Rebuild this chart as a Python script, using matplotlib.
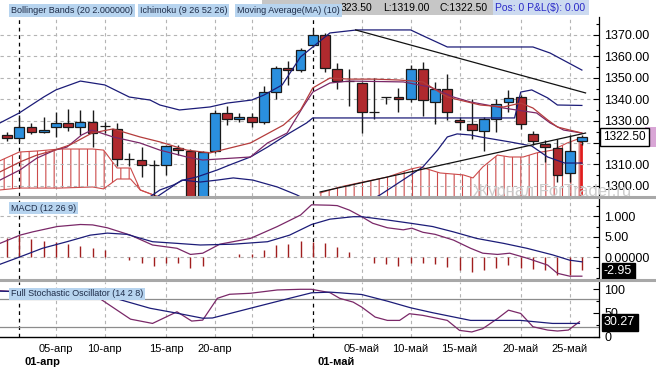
import numpy as np
import matplotlib
matplotlib.use("Agg")
import matplotlib.pyplot as plt
from matplotlib.lines import Line2D
from matplotlib.patches import Rectangle
from matplotlib.ticker import AutoMinorLocator
from matplotlib.transforms import Bbox, TransformedBbox, blended_transform_factory

plt.rcParams["font.family"] = ["Liberation Sans", "DejaVu Sans"]
plt.rcParams["hatch.linewidth"] = 0.8

# --- price candles, one per bar (index 0..47) ---
opens = [1323.5, 1322, 1327, 1325, 1327, 1329, 1327, 1329.5, 1327.7, 1326.5,
         1312.4, 1312, 1309.6, 1309.5, 1317.5, 1316, 1294, 1316, 1333.5, 1331,
         1332, 1329.5, 1343.5, 1354.5, 1353.5, 1365, 1370, 1354, 1348.5, 1347.5,
         1334.3, 1341.3, 1341, 1340, 1354, 1339, 1345, 1330.5, 1328.5, 1325.5,
         1331, 1338.7, 1341, 1324, 1319.5, 1317.5, 1306, 1320.5]
highs = [1325, 1333, 1329, 1332, 1334, 1335.5, 1335, 1335, 1329.5, 1329,
         1315, 1318, 1312, 1319, 1319, 1317, 1316, 1335, 1337, 1333.5,
         1333.5, 1346, 1355.5, 1358, 1364, 1372, 1371, 1357, 1354, 1348,
         1350, 1341.3, 1345.5, 1356, 1357.5, 1348, 1352, 1332, 1340, 1332,
         1340, 1344.5, 1342, 1325.5, 1321, 1321.5, 1323.5, 1323.5]
lows = [1320.5, 1320.5, 1324, 1324.5, 1322.5, 1325.5, 1323.5, 1318, 1324.5, 1309,
        1309, 1304, 1290, 1305, 1314, 1289, 1290, 1315, 1328, 1329.5,
        1327, 1328.5, 1340, 1346.5, 1352.5, 1364.5, 1352.5, 1345, 1337, 1324.5,
        1331, 1338, 1334, 1339, 1332.5, 1328.5, 1330.5, 1326, 1321.5, 1316,
        1325, 1334, 1326.5, 1319, 1311, 1301.5, 1301.5, 1319]
closes = [1322, 1327, 1325, 1326, 1329, 1327, 1329.5, 1324.5, 1327.7, 1312.5,
          1312.4, 1309.5, 1309.6, 1318.5, 1316.5, 1292, 1315.5, 1333.5, 1331, 1332,
          1329.5, 1343.5, 1354.5, 1353.5, 1363, 1370, 1354.5, 1348.5, 1348.5, 1334,
          1334.3, 1341.3, 1340, 1354, 1339.5, 1345, 1334, 1329.3, 1326, 1331,
          1338, 1340.8, 1328.5, 1320.5, 1318, 1305, 1316, 1322.5]

# --- overlay lines (bar position, price) ---
ubb_x = [-0.57, 1, 3, 4, 6, 8, 10, 11.7, 12.5, 14.1, 16.6, 18, 20, 21, 22.5, 24, 25,
         26.4, 28.6, 33, 34.2, 36, 43, 44.4, 47]
ubb_y = [1329.1, 1333.7, 1341.1, 1344.4, 1348.5, 1346.7, 1341.1, 1339.7, 1337.4, 1335.1,
         1336.5, 1338.3, 1339.7, 1342, 1346.7, 1359.7, 1364.3, 1370.8, 1372.2, 1372.2,
         1369, 1364.3, 1364.3, 1361.5, 1353.6]
lbb_x = [12.3, 14.3, 15.8, 17.2, 18.5, 20.1, 22.1, 23.7, 26, 28, 30.5, 34, 35.2, 36,
         36.8, 37.9, 38.7, 41.1, 42.9, 44.2, 45.6, 47]
lbb_y = [1295, 1302.6, 1301.7, 1302.6, 1303.6, 1302.6, 1299.4, 1295.7, 1289, 1288,
         1295.7, 1308.7, 1316.5, 1322.6, 1324, 1323.5, 1322.6, 1320.3, 1318.4, 1313.3,
         1310.5, 1310.5]
kijun_x = [11.6, 12.5, 13.6, 14.4, 15.5, 17.2, 18.2, 19.9, 21.3, 23.1, 24.5, 25, 41.5,
           42, 42.9, 44.2, 45, 47]
kijun_y = [1294.5, 1298, 1300.3, 1302.6, 1304, 1307.3, 1309.6, 1313.3, 1317.9, 1324.4,
           1329.1, 1331.4, 1331.4, 1343.4, 1344.4, 1340.7, 1337.4, 1337.2]
ma_x = [-0.57, 1.06, 2.45, 3.92, 5.15, 6.95, 8.67, 10.87, 12.5, 14.7, 16.6, 19.9, 22.6,
        24, 25, 26.4, 28, 30, 32, 33, 34, 36, 37, 38.7, 40.6, 42, 43, 44.2, 45, 46, 47]
ma_y = [1306.4, 1311, 1314.2, 1316.5, 1318.9, 1324.4, 1326.3, 1322.6, 1320.3, 1316.5,
        1315.2, 1319.8, 1328.1, 1335.1, 1345.3, 1349.9, 1349.4, 1349.4, 1349, 1348.6,
        1348.1, 1341.1, 1339.7, 1337.4, 1336.5, 1338.3, 1336, 1330.5, 1327.2, 1325.8,
        1324.4]
tenkan_x = [-0.57, 1.06, 2.45, 3.92, 4.9, 6.1, 6.95, 8.67, 10.87, 12.5, 14.7, 16, 19.9,
            21.3, 22.9, 24.2, 25, 26.4, 28, 32.4, 34.6, 36.5, 37.9, 40.6, 43.3, 44.4,
            45.5, 47]
tenkan_y = [1302.6, 1307.3, 1312.8, 1316.5, 1317.9, 1323.5, 1325.8, 1322.6, 1319.8,
            1316.5, 1313.3, 1311.9, 1313.3, 1319.8, 1324.4, 1336.5, 1343.4, 1347.6,
            1348.5, 1348.1, 1345.7, 1341.1, 1338.8, 1336, 1333.7, 1329.1, 1325.8, 1324.4]

# ichimoku cloud pieces
cloud_l_x = [-0.6, 1, 2.5, 4.3, 7, 7.9, 9, 10.1, 10.9, 12.3]
cloud_l_top = [1311.5, 1315.6, 1316.1, 1317, 1317, 1316.5, 1308.2, 1308.2, 1298, 1295]
cloud_l_bot = [1298, 1298.9, 1298.9, 1298.9, 1299.4, 1298.5, 1303.1, 1303.1, 1298, 1295]
cloud_r_x = [25.6, 27.2, 29.1, 31.1, 33, 33.8, 34.6, 35.4, 37.3, 38.1, 38.9, 40.1, 41.1,
             42.2, 43.3, 44.6, 45.8, 46.9]
cloud_r_top = [1296.6, 1299.4, 1301.7, 1304, 1307.7, 1308.7, 1307.3, 1305.9, 1305,
               1303.6, 1308.7, 1314.2, 1313.3, 1313.3, 1315.2, 1316.5, 1319.8, 1322.1]
cloud_floor = 1285

# hand drawn trend lines
trend_dn_x = [28.5, 47.3]
trend_dn_y = [1372.2, 1343]
trend_up_x = [25.6, 47.3]
trend_up_y = [1297.1, 1324.4]

# --- MACD (12 26 9) ---
macd_x = [-0.57, 1.06, 2.1, 4.1, 6, 7, 8.2, 10.1, 11.9, 13.9, 15, 16, 17.4, 19.9, 22.1,
          24, 24.9, 26.4, 27, 28, 29, 29.9, 31.1, 32.4, 33.1, 34, 35, 36.5, 37.9, 38.9,
          40.1, 41.1, 42.5, 44.2, 45, 46, 47]
macd_y = [3.4, 5.4, 6.2, 7.5, 8, 7.9, 7.2, 5.4, 3, 2.2, 0.7, 1, 3.2, 4.6, 7.5, 10.3,
          12.8, 12.7, 12.6, 11.5, 9.9, 8.3, 7.2, 6.7, 7.1, 6.1, 5.6, 4.2, 2.2, 1, 0.7, 1,
          -0.2, -1.9, -3.9, -4.6, -4.6]
signal_x = [-0.57, 1.06, 2.9, 4.9, 6.8, 8.2, 9.8, 11.9, 13.9, 15.8, 18.5, 21.3, 23.1,
            24.9, 26.4, 28.3, 29, 31.1, 33, 34.8, 36.5, 38.4, 40.6, 42.5, 44.6, 46, 47]
signal_y = [-1.7, 0.1, 2.2, 3.8, 5.4, 5.9, 5.6, 3.8, 3.4, 3, 3.2, 3.8, 5.4, 8, 9.3, 9.9,
            9.9, 9.1, 8.3, 7.5, 6.2, 4.6, 3.4, 2.2, 0.6, -0.7, -1.1]
hist = [4.6, 5.4, 4.4, 4.0, 3.7, 3.2, 2.8, 2.2, 1.8, 0.1, -0.6, -1.3, -2.1, -1.5, -1.5,
        -2.6, -2.1, 0.0, 0.1, 0.7, 0.8, 1.8, 3.0, 3.2, 4.0, 3.8, 3.5, 2.4, 1.4, 0.05,
        -1.5, -1.7, -2.0, -1.5, -1.5, -1.7, -2.3, -3.1, -3.5, -3.1, -2.5, -1.9, -2.5,
        -2.8, -3.1, -4.3, -4.3, -3.1]

# --- Full Stochastic (14 2 8) ---
k_x = [-0.57, 3, 7.6, 10.1, 11.9, 13.9, 15.1, 16, 17.2, 18.2, 19.9, 22.1, 24, 24.9,
       26.4, 27.2, 28.3, 29, 30.1, 31.1, 32.1, 32.9, 34, 36, 37, 38, 38.9, 40.1, 41, 42,
       43, 44.2, 45, 45.9, 46.8]
k_y = [97, 92, 80.2, 37, 28, 52.6, 33, 35, 81, 89.5, 91.6, 98.6, 100, 100, 93, 81, 73,
       62.5, 41.4, 34.4, 34.4, 48.5, 45, 34.4, 13.3, 10, 17, 38.2, 56, 49, 21, 14, 12,
       14, 31.6]
d_x = [-0.57, 4, 7.9, 11.7, 13.9, 16, 16.8, 19.9, 23.1, 24.9, 26.4, 27.2, 29, 31.1, 33,
       34.8, 37.9, 40.1, 42, 44.6, 46.8]
d_y = [96, 93, 88, 60, 49.6, 39, 39.5, 60, 81, 92.6, 94, 92.6, 89, 75, 61, 50.6, 34.4,
       34.4, 34.4, 28, 28]

# date axis
date_idx = [4, 8, 13, 17, 29, 33, 37, 42, 46]
date_lbl = ["05-апр", "10-апр", "15-апр", "20-апр", "05-май", "10-май", "15-май",
            "20-май", "25-май"]
month_idx = [1, 25]
month_lbl = ["01-апр", "01-май"]
grid_idx = [4, 8, 13, 17, 20, 29, 33, 37, 42, 46]

BLUE = "#2a8fde"
RED = "#b02a2e"
NAVY = "#1c1c78"
PURPLE = "#7a2868"
MAROON = "#b43c3c"
CLOUD = "#cc4a4a"
GRID = "#b4b4b4"
DASH = (0, (3, 3))

W, H = 656, 367
fig = plt.figure(figsize=(W / 100, H / 100), dpi=100)


def fx(px):
    return px / W


def fy(py):
    return 1 - py / H


def panel(top, bottom):
    return fig.add_axes([0, fy(bottom), fx(599), (bottom - top) / H])


ax1 = panel(17, 195.5)
ax2 = panel(198, 279)
ax3 = panel(282, 336.7)

for ax in (ax1, ax2, ax3):
    ax.set_xlim(-0.57, 48.4)
    for s in ("top", "left", "bottom"):
        ax.spines[s].set_visible(False)
    ax.spines["right"].set_linewidth(0.9)
    ax.yaxis.tick_right()
    ax.yaxis.set_minor_locator(AutoMinorLocator(2))
    ax.tick_params(axis="y", direction="in", length=4, width=0.8, pad=4, labelsize=9)
    ax.tick_params(axis="y", which="minor", direction="in", length=2, width=0.8)
    ax.tick_params(axis="x", length=0)
    for g in grid_idx:
        ax.axvline(g, color=GRID, lw=0.8, ls=DASH, zorder=0)
    for m in month_idx:
        ax.axvline(m, color="black", lw=0.9, ls=DASH, zorder=1)

# ---------------- main price panel ----------------
ax1.set_ylim(1295.45, 1378.2)
price_ticks = list(range(1300, 1371, 10))
ax1.set_yticks(price_ticks)
# the 1320 label sits under the last-price box
ax1.set_yticklabels(["" if v == 1320 else f"{v:.2f}" for v in price_ticks])
ax1.grid(axis="y", color=GRID, lw=0.8, ls=DASH, zorder=0)
ax1.set_xticks([])

ax1.fill_between(cloud_l_x, cloud_l_top, cloud_l_bot, facecolor="none", edgecolor=CLOUD,
                 hatch="||", lw=0, zorder=1)
ax1.plot(cloud_l_x, cloud_l_top, color=CLOUD, lw=0.8, zorder=1)
ax1.plot(cloud_l_x, cloud_l_bot, color=CLOUD, lw=0.8, zorder=1)
ax1.fill_between(cloud_r_x, cloud_r_top, cloud_floor, facecolor="none", edgecolor=CLOUD,
                 hatch="||", lw=0, zorder=1)
ax1.plot(cloud_r_x, cloud_r_top, color=CLOUD, lw=0.8, zorder=1)
ax1.vlines(cloud_r_x[-1], cloud_floor, cloud_r_top[-1], color="#e01c1c", lw=2, zorder=1)

o = np.array(opens)
c = np.array(closes)
idx = np.arange(len(o))
body_col = [BLUE if cc > oo else (RED if cc < oo else "#303030") for oo, cc in zip(o, c)]
ax1.vlines(idx, lows, highs, color="#1a1a1a", lw=1, zorder=2)
ax1.bar(idx, np.abs(c - o), bottom=np.minimum(o, c), width=0.8, color=body_col,
        edgecolor="#1a1a1a", lw=0.9, zorder=3)

ax1.plot(ubb_x, ubb_y, color=NAVY, lw=0.9, zorder=4)
ax1.plot(lbb_x, lbb_y, color=NAVY, lw=0.9, zorder=4)
ax1.plot(kijun_x, kijun_y, color=NAVY, lw=0.9, zorder=4)
ax1.plot(tenkan_x, tenkan_y, color=PURPLE, lw=0.9, zorder=4)
ax1.plot(ma_x, ma_y, color=MAROON, lw=0.9, zorder=4)
ax1.plot(trend_dn_x, trend_dn_y, color="#111111", lw=0.9, zorder=5)
ax1.plot(trend_up_x, trend_up_y, color="#111111", lw=0.9, zorder=5)

# last price box on the axis
ax1.annotate("1322.50", xy=(1, closes[-1]), xycoords=("axes fraction", "data"),
             xytext=(4, 0), textcoords="offset pixels", ha="left", va="center",
             fontsize=8.5, annotation_clip=False,
             bbox=dict(boxstyle="square,pad=0.25", fc="white", ec="black", lw=1))
tr1 = blended_transform_factory(ax1.transAxes, ax1.transData)
ax1.add_patch(Rectangle((1 + 46 / 599, closes[-1] - 4.6), 11 / 599, 9.2, transform=tr1,
                        fc="#d9a6d6", ec="none", clip_on=False, zorder=0))

# ---------------- MACD panel ----------------
ax2.set_ylim(-5.29, 14.46)
ax2.set_yticks([0, 5, 10])
ax2.set_yticklabels(["0.00000", "5.00", "1.000"])
ax2.grid(axis="y", color=GRID, lw=0.8, ls=DASH, zorder=0)
ax2.set_xticks([])
ax2.vlines(idx, 0, hist, color="#a01e1e", lw=1, zorder=2)
ax2.plot(macd_x, macd_y, color=PURPLE, lw=0.9, zorder=3)
ax2.plot(signal_x, signal_y, color=NAVY, lw=0.9, zorder=3)
ax2.annotate("-2.95", xy=(1, -3.35), xycoords=("axes fraction", "data"),
             xytext=(5, 0), textcoords="offset pixels", ha="left", va="center",
             fontsize=9, color="white", annotation_clip=False,
             bbox=dict(boxstyle="square,pad=0.2", fc="black", ec="black"))

# ---------------- Stochastic panel ----------------
ax3.set_ylim(0, 115.4)
ax3.set_yticks([0, 50, 100])
ax3.set_yticklabels(["0", "50", "100"])
ax3.axhline(80, color="#8c8c8c", lw=0.9, zorder=1)
ax3.axhline(20, color="#8c8c8c", lw=0.9, zorder=1)
ax3.plot(k_x, k_y, color=PURPLE, lw=0.9, zorder=3)
ax3.plot(d_x, d_y, color=NAVY, lw=0.9, zorder=3)
ax3.spines["bottom"].set_visible(True)
ax3.spines["bottom"].set_linewidth(1)
ax3.set_xticks(date_idx)
ax3.set_xticklabels(date_lbl, fontsize=8)
ax3.tick_params(axis="x", length=0, pad=5.5)
for m, lbl in zip(month_idx, month_lbl):
    ax3.annotate(lbl, xy=(m, 0), xycoords=("data", "axes fraction"), xytext=(5, -25),
                 textcoords="offset pixels", ha="left", va="center", fontsize=8,
                 fontweight="bold", annotation_clip=False)
ax3.annotate("30.27", xy=(1, 30.27), xycoords=("axes fraction", "data"),
             xytext=(5, 0), textcoords="offset pixels", ha="left", va="center",
             fontsize=9, color="white", annotation_clip=False, zorder=10,
             bbox=dict(boxstyle="square,pad=0.2", fc="black", ec="black"))

# panel separators
for py in (196.7, 280.2):
    fig.add_artist(Line2D([0, 1], [fy(py), fy(py)], transform=fig.transFigure,
                          color="#a8a8a8", lw=2.2))

# ---------------- header / labels ----------------
lab = dict(fontsize=6.5, color="#1e2c48", va="center", ha="left",
           bbox=dict(boxstyle="square,pad=0.2", fc="#b7d4ef", ec="none"))
fig.add_artist(Rectangle((fx(262), fy(15)), fx(493) - fx(262), 15 / H,
                         transform=fig.transFigure, fc="#c6c6c6", ec="none"))
fig.add_artist(Rectangle((fx(493), fy(15)), fx(589) - fx(493), 15 / H,
                         transform=fig.transFigure, fc="#ccdaf0", ec="none"))
fig.text(fx(341), fy(8), "323.50", fontsize=7.5, va="center")
fig.text(fx(383), fy(8), "L:1319.00", fontsize=7.5, va="center")
fig.text(fx(440), fy(8), "C:1322.50", fontsize=7.5, va="center")
fig.text(fx(495), fy(8), "Pos: 0 P&L($): 0.00", fontsize=7.5, va="center", color="#2a2ac8")
fig.text(fx(11), fy(10.5), "Bollinger Bands (20 2.000000)", **lab)
fig.text(fx(140), fy(10.5), "Ichimoku (9 26 52 26)", **lab)
fig.text(fx(237), fy(10.5), "Moving Average(MA) (10)", **lab)
fig.text(fx(11), fy(208), "MACD (12 26 9)", **lab)
fig.text(fx(11), fy(294), "Full Stochastic Oscillator (14 2 8)", **lab)

# watermark, cut off by the panel edge
wm = fig.text(fx(473), fy(196), "Журнал ForTrader.ru", fontsize=12, color="#cdcdcd",
              va="baseline", ha="left", zorder=0)
wm.set_clip_box(TransformedBbox(Bbox([[0, fy(195.5)], [1, 1]]), fig.transFigure))
wm.set_clip_on(True)

fig.savefig("out.png", dpi=100)
